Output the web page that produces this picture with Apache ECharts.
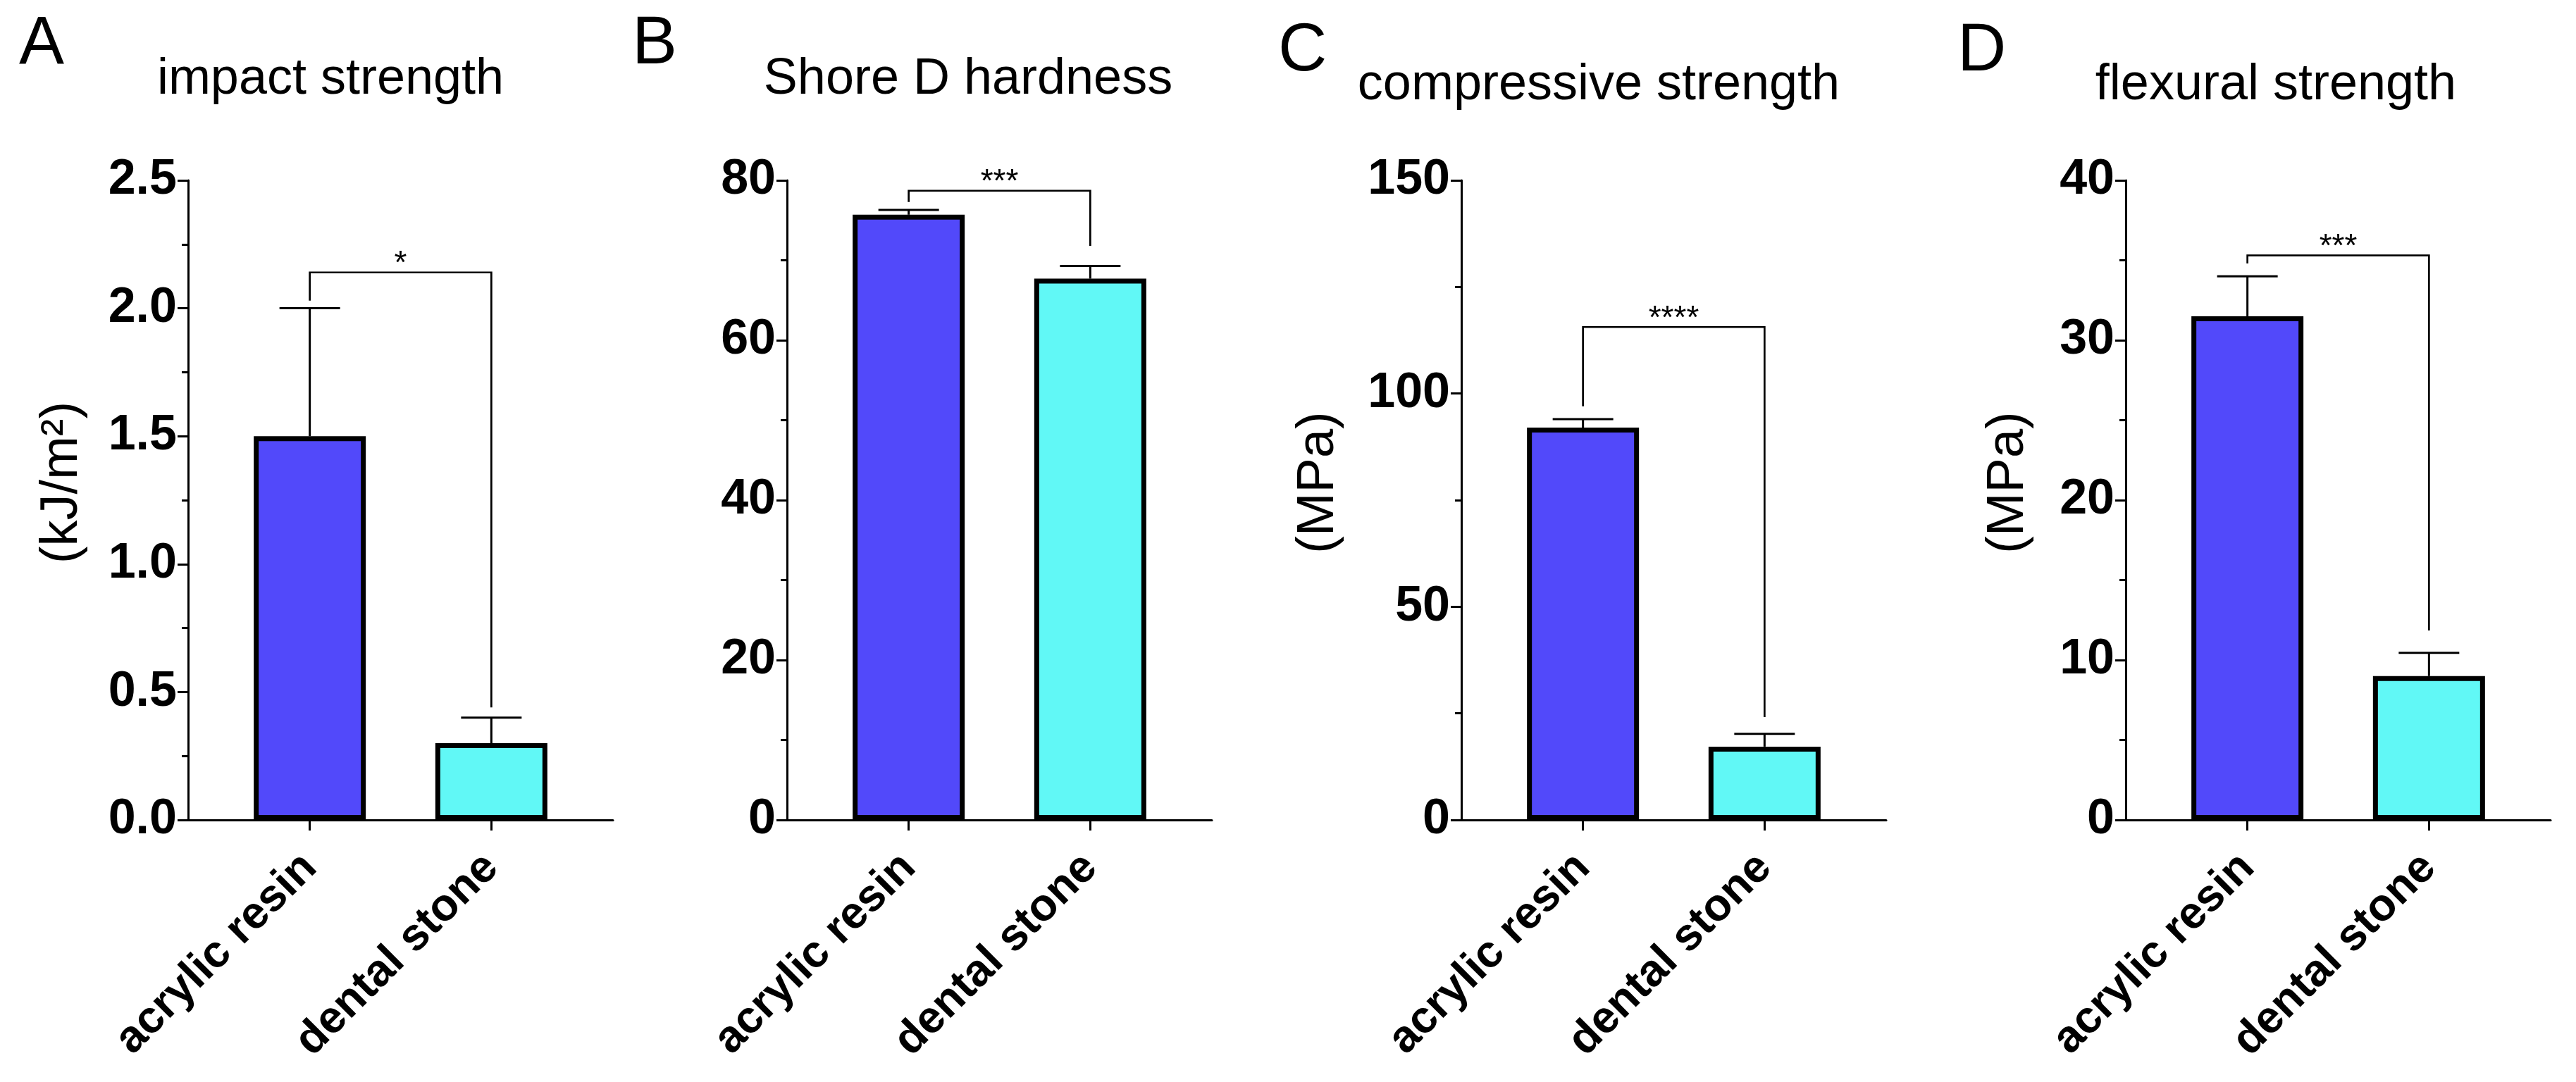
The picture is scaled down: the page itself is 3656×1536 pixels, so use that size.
<!DOCTYPE html>
<html>
<head>
<meta charset="utf-8">
<title>Material properties</title>
<script src="https://cdn.jsdelivr.net/npm/echarts@6/dist/echarts.min.js"></script>
<style>
  html, body { margin: 0; padding: 0; background: #fff; }
  #chart { width: 3656px; height: 1536px; }
</style>
</head>
<body>
<div id="chart"></div>
<script>
const categories = ['acrylic resin', 'dental stone'];
const panelLetters = ['A', 'B', 'C', 'D'];
const panelTitles = ['impact strength', 'Shore D hardness', 'compressive strength', 'flexural strength'];
const unitLabels = ['(kJ/m²)', '', '(MPa)', '(MPa)'];

// means and upper error (SD) per category
const impactMean = [1.5, 0.3];
const impactSd = [0.5, 0.1];
const hardnessMean = [75.7, 67.7];
const hardnessSd = [0.6, 1.6];
const compressiveMean = [92.0, 17.2];
const compressiveSd = [2.0, 3.0];
const flexuralMean = [31.5, 9.0];
const flexuralSd = [2.5, 1.45];

// significance bracket: [level, left leg end, right leg end]
const impactBracket = [2.14, 2.03, 0.44];
const hardnessBracket = [78.7, 77.3, 71.8];
const compressiveBracket = [115.6, 97.0, 24.1];
const flexuralBracket = [35.3, 34.8, 11.85];
const starLabels = ['*', '***', '****', '***'];

const yMax = [2.5, 80, 150, 40];
const yInterval = [0.5, 20, 50, 10];
const yDecimals = [1, 0, 0, 0];

const means = [impactMean, hardnessMean, compressiveMean, flexuralMean];
const sds = [impactSd, hardnessSd, compressiveSd, flexuralSd];
const brackets = [impactBracket, hardnessBracket, compressiveBracket, flexuralBracket];

const barColors = ['#5249FA', '#61F8F6'];
const FONT = 'Liberation Sans, Arial, sans-serif';

// layout (px)
const gridLeft = [267, 1117, 2074, 3017];
const gridWidth = 603;
const gridTop = 256;
const gridHeight = 908;
const titleX = [469, 1374, 2269, 3230];
const titleY = [113, 113, 121, 121];
const letterX = [27, 897, 1814, 2778];
const letterY = [64, 64, 74, 74];
const unitX = [89, 0, 1872, 2851];

const chart = echarts.init(document.getElementById('chart'));

const grids = [], xAxes = [], yAxes = [], series = [], graphics = [];

for (let p = 0; p < 4; p++) {
  grids.push({ left: gridLeft[p], top: gridTop, width: gridWidth, height: gridHeight });

  xAxes.push({
    gridIndex: p, type: 'value', min: -0.67, max: 1.67,
    axisLine: { show: true, onZero: false, lineStyle: { color: '#000', width: 3 } },
    axisTick: { show: true, customValues: [0, 1], length: 15, lineStyle: { color: '#000', width: 3 } },
    axisLabel: {
      show: true, customValues: [0, 1], rotate: 45, margin: 58,
      formatter: v => categories[Math.round(v)],
      color: '#000', fontFamily: FONT, fontWeight: 'bold', fontSize: 64
    },
    splitLine: { show: false }
  });

  yAxes.push({
    gridIndex: p, type: 'value', min: 0, max: yMax[p], interval: yInterval[p],
    axisLine: { show: true, onZero: false, lineStyle: { color: '#000', width: 3 } },
    axisTick: { show: true, length: 15, lineStyle: { color: '#000', width: 3 } },
    minorTick: { show: true, splitNumber: 2, length: 9, lineStyle: { color: '#000', width: 3 } },
    axisLabel: {
      margin: 16, color: '#000', fontFamily: FONT, fontWeight: 'bold', fontSize: 70,
      formatter: v => v.toFixed(yDecimals[p])
    },
    splitLine: { show: false },
    minorSplitLine: { show: false }
  });

  series.push({
    type: 'bar', xAxisIndex: p, yAxisIndex: p, barWidth: 159, silent: true,
    data: means[p].map((m, i) => ({
      value: [i, m],
      itemStyle: { color: barColors[i], borderColor: '#000', borderWidth: 7 }
    }))
  });

  // error bars (upper only)
  series.push({
    type: 'custom', xAxisIndex: p, yAxisIndex: p, silent: true, clip: false, z: 3,
    data: means[p].map((m, i) => [i, m, sds[p][i]]),
    renderItem: function (params, api) {
      const base = api.coord([api.value(0), api.value(1)]);
      const top = api.coord([api.value(0), api.value(1) + api.value(2)]);
      const st = { stroke: '#000', lineWidth: 3 };
      return {
        type: 'group', children: [
          { type: 'line', shape: { x1: base[0], y1: base[1], x2: top[0], y2: top[1] }, style: st },
          { type: 'line', shape: { x1: top[0] - 43, y1: top[1], x2: top[0] + 43, y2: top[1] }, style: st }
        ]
      };
    }
  });

  // significance bracket
  series.push({
    type: 'custom', xAxisIndex: p, yAxisIndex: p, silent: true, clip: false, z: 4,
    data: [[0, brackets[p][0], brackets[p][1], brackets[p][2]]],
    renderItem: function (params, api) {
      const lvl = api.value(1);
      const a = api.coord([0, api.value(2)]);
      const b = api.coord([0, lvl]);
      const c = api.coord([1, lvl]);
      const d = api.coord([1, api.value(3)]);
      return {
        type: 'group', children: [
          { type: 'polyline', shape: { points: [a, b, c, d] }, style: { stroke: '#000', lineWidth: 2.7, fill: null } },
          {
            type: 'text', x: (b[0] + c[0]) / 2, y: b[1] - 11,
            style: { text: starLabels[p], fill: '#000', font: '46px ' + FONT, textAlign: 'center', textVerticalAlign: 'middle' }
          }
        ]
      };
    }
  });

  graphics.push({
    type: 'text', x: letterX[p], y: letterY[p],
    style: { text: panelLetters[p], fill: '#000', font: '96px ' + FONT, textAlign: 'left', textVerticalAlign: 'middle' }
  });
  graphics.push({
    type: 'text', x: titleX[p], y: titleY[p],
    style: { text: panelTitles[p], fill: '#000', font: '72px ' + FONT, textAlign: 'center', textVerticalAlign: 'middle' }
  });
  if (unitLabels[p]) {
    graphics.push({
      type: 'text', x: unitX[p], y: 685, rotation: Math.PI / 2,
      style: { text: unitLabels[p], fill: '#000', font: '74px ' + FONT, textAlign: 'center', textVerticalAlign: 'middle' }
    });
  }
}

chart.setOption({
  animation: false,
  backgroundColor: '#fff',
  grid: grids,
  xAxis: xAxes,
  yAxis: yAxes,
  series: series,
  graphic: graphics
});
</script>
</body>
</html>
